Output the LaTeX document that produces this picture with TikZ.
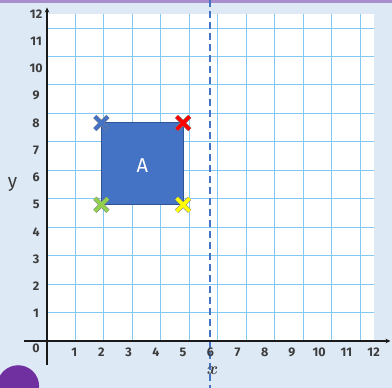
\documentclass[tikz,border=0pt]{standalone}
\usepackage{fontspec}
\setsansfont{Fira Sans}
\usetikzlibrary{shapes.misc,arrows.meta}
\definecolor{bgblue}{RGB}{221,233,245}
\definecolor{gridblue}{RGB}{130,200,242}
\definecolor{topbar}{RGB}{168,142,205}
\definecolor{darkpurple}{RGB}{112,48,160}
\definecolor{sqfill}{RGB}{68,114,196}
\definecolor{sqedge}{RGB}{47,85,151}
\definecolor{dashblue}{RGB}{68,114,196}
\definecolor{labgray}{RGB}{60,60,60}
\definecolor{crossgreen}{RGB}{146,208,80}
\definecolor{crossyellow}{RGB}{255,255,0}
\definecolor{crossred}{RGB}{255,0,0}
\definecolor{crossblue}{RGB}{68,114,196}
\begin{document}
\begin{tikzpicture}[x=27.22pt,y=27.25pt,
  ticklab/.style={font=\sffamily\bfseries\fontsize{12.5}{12.5}\selectfont, text=labgray, inner sep=0pt},
  axisline/.style={line width=1.5pt, draw=black!90},
  mark/.style={cross out, draw=black!50, double=#1, double distance=3.6pt, line width=0.5pt, minimum size=12.5pt, inner sep=0pt}
]
\useasboundingbox (-1.727,-1.725) rectangle (12.675,12.514);
\fill[bgblue] (-1.727,-1.725) rectangle (12.675,12.514);
\fill[topbar] (-1.727,12.404) rectangle (12.675,12.514);
\begin{scope}
  \clip (-1.727,-1.725) rectangle (12.675,12.514);
  \fill[darkpurple] (-1.06,-1.66) circle (0.77);
\end{scope}
% grid
\fill[white] (0,0) rectangle (12,12);
\draw[gridblue, line width=0.9pt] (0,0) grid (12,12);
% square A
\draw[fill=sqfill, draw=sqedge, line width=1pt] (2,5) rectangle (5,8);
\node[font=\sffamily\fontsize{20}{20}\selectfont, text=white] (labA) at (3.5,6.45) {A};
% dashed line
\coordinate (dtop) at (6,12.514);
\coordinate (dbot) at (6,-1.725);
\draw[dashblue, line width=1.9pt, dash pattern=on 7pt off 4pt] (dtop) -- (dbot);
% axes
\coordinate (xs) at (-0.845,0);
\coordinate (xe) at (12.62,0);
\coordinate (ys) at (0,-0.88);
\coordinate (ye) at (0,12.24);
\draw[axisline, -{Stealth[length=5pt,width=4.5pt]}] (xs) -- (xe);
\draw[axisline, -{Stealth[length=5pt,width=4.5pt]}] (ys) -- (ye);
% tick labels
\foreach \i in {1,...,12} {
  \node[ticklab] (yl\i) at (-0.4,\i) {\i};
  \node[ticklab] (xl\i) at (\i,-0.42) {\i};
}
\node[ticklab] (zero) at (-0.4,-0.28) {0};
\node[font=\boldmath\fontsize{19}{19}\selectfont, text=labgray] (xname) at (6.08,-1.1) {$x$};
\node[font=\sffamily\fontsize{19}{19}\selectfont, text=labgray] (yname) at (-1.27,5.75) {y};
% crosses
\node[mark=crossblue] (cb) at (2,8) {};
\node[mark=crossred] (cr) at (5,8) {};
\node[mark=crossgreen] (cg) at (2,5) {};
\node[mark=crossyellow] (cy) at (5,5) {};
\end{tikzpicture}
\end{document}
